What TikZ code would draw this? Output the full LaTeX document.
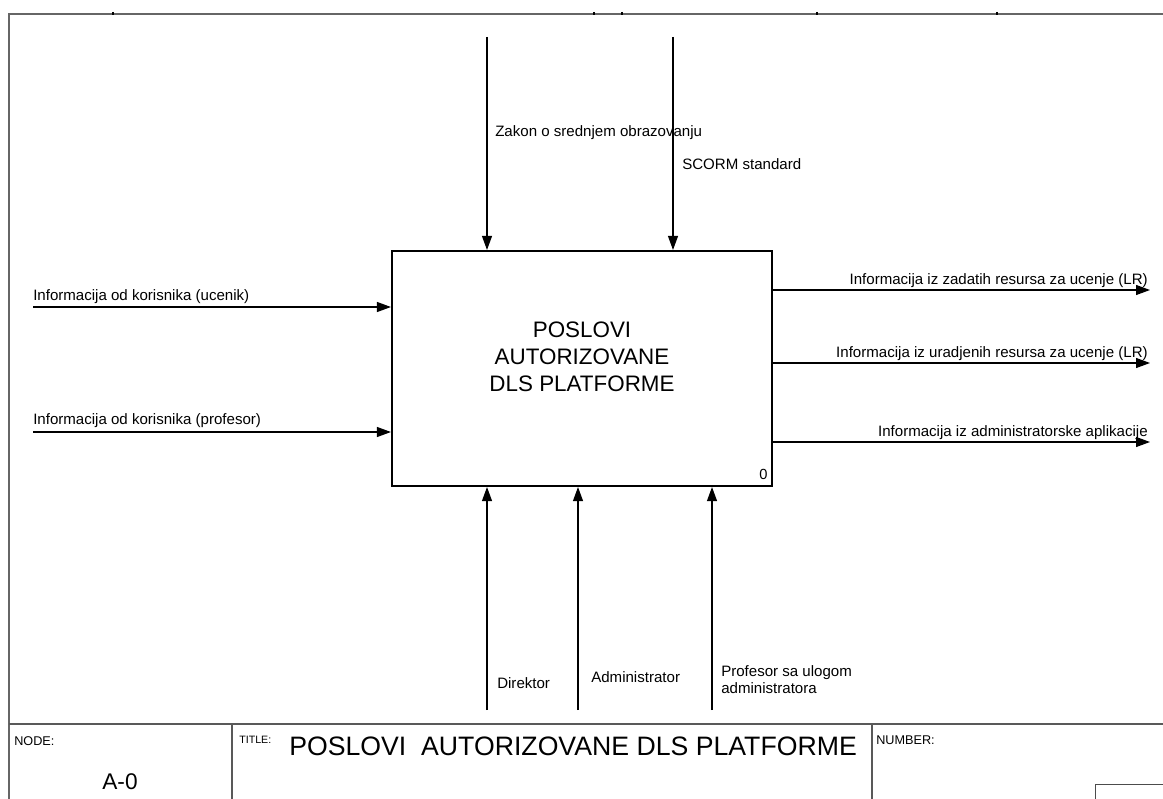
\documentclass[tikz,border=0pt]{standalone}
\usepackage{fontspec}
\setmainfont{Liberation Sans}
\usetikzlibrary{arrows.meta}
\begin{document}
\begin{tikzpicture}[x=0.75pt,y=-0.75pt,
  frame/.style={draw=black!60, line width=1.5pt},
  sheet/.style={draw=black!65, line width=0.9pt},
  flow/.style={draw=black, line width=0.8pt, -{Triangle[length=10.5pt,width=7.5pt]}},
  lbl/.style={inner sep=0pt, font=\fontsize{11.3}{13}\selectfont},
  activity/.style={draw=black, line width=1.6pt, minimum width=285pt, minimum height=176.25pt, inner sep=0pt}]
\useasboundingbox (0,0) rectangle (1163,799);

% outer sheet frame
\coordinate (ftl) at (9,14);
\coordinate (ftr) at (1163,14);
\coordinate (fbl) at (9,799);
\draw[frame] (ftr) -- (ftl) -- (fbl);
\foreach \tx in {113,594,622,817,997}
  \draw[black, line width=0.8pt] (\tx,12) -- (\tx,15);

% activity box
\node[activity] (box) at (582,368.5) {};
\node[align=center, inner sep=0pt, font=\fontsize{16.8}{20.3}\selectfont] (boxtxt) at ([yshift=8.5pt]box.center)
  {POSLOVI\\ AUTORIZOVANE\\DLS PLATFORME};
\node[inner sep=0pt, font=\fontsize{11}{12}\selectfont, anchor=south east] (boxno) at ([xshift=-4pt,yshift=5pt]box.south east) {0};

% controls (top)
\coordinate (c1) at (487,37);
\coordinate (c2) at (673,37);
\draw[flow] (c1) -- (c1 |- box.north);
\draw[flow] (c2) -- (c2 |- box.north);
\node[lbl, anchor=west] (lc1) at (495,133) {Zakon o srednjem obrazovanju};
\node[lbl, anchor=west] (lc2) at (682,164) {SCORM standard};

% inputs (left)
\coordinate (i1) at (33,307);
\coordinate (i2) at (33,432);
\draw[flow] (i1) -- (i1 -| box.west);
\draw[flow] (i2) -- (i2 -| box.west);
\node[lbl, anchor=west] (li1) at (33,297) {Informacija od korisnika (ucenik)};
\node[lbl, anchor=west] (li2) at (33,421) {Informacija od korisnika (profesor)};

% outputs (right)
\coordinate (o1) at (1150,290);
\coordinate (o2) at (1150,363);
\coordinate (o3) at (1150,442);
\draw[flow] (o1 -| box.east) -- (o1);
\draw[flow] (o2 -| box.east) -- (o2);
\draw[flow] (o3 -| box.east) -- (o3);
\node[lbl, anchor=east] (lo1) at (1148,281) {Informacija iz zadatih resursa za ucenje (LR)};
\node[lbl, anchor=east] (lo2) at (1148,354) {Informacija iz uradjenih resursa za ucenje (LR)};
\node[lbl, anchor=east] (lo3) at (1148,433) {Informacija iz administratorske aplikacije};

% mechanisms (bottom)
\coordinate (m1) at (487,710);
\coordinate (m2) at (578,710);
\coordinate (m3) at (712,710);
\draw[flow] (m1) -- (m1 |- box.south);
\draw[flow] (m2) -- (m2 |- box.south);
\draw[flow] (m3) -- (m3 |- box.south);
\node[lbl, anchor=west] (lm1) at (497,683) {Direktor};
\node[lbl, anchor=west] (lm2) at (591,677) {Administrator};
\node[lbl, anchor=west, align=left, font=\fontsize{11.3}{12.8}\selectfont] (lm3) at (721,680) {Profesor sa ulogom\\administratora};

% title block
\coordinate (tbl) at (9,724);
\coordinate (tbr) at (1163,724);
\draw[sheet] (tbl) -- (tbr);
\coordinate (d1) at (232,724);
\coordinate (d1b) at (232,799);
\coordinate (d2) at (872,724);
\coordinate (d2b) at (872,799);
\draw[sheet] (d1) -- (d1b);
\draw[sheet] (d2) -- (d2b);
\coordinate (nb) at (1095,784);
\draw[black!70, line width=0.6pt] (1163,784) -- (nb) -- (1095,799);

\node[inner sep=0pt, anchor=west, font=\fontsize{9.5}{10}\selectfont] (nodelbl) at (14,741) {NODE:};
\node[inner sep=0pt, font=\fontsize{17}{20}\selectfont] (nodeval) at (120,782) {A-0};
\node[inner sep=0pt, anchor=west, font=\fontsize{8}{9}\selectfont] (titlelbl) at (239,740) {TITLE:};
\node[inner sep=0pt, anchor=west, font=\fontsize{20}{22}\selectfont] (titleval) at (289,746) {POSLOVI\ \ AUTORIZOVANE DLS PLATFORME};
\node[inner sep=0pt, anchor=west, font=\fontsize{9.5}{10}\selectfont] (numlbl) at (876,740) {NUMBER:};
\end{tikzpicture}
\end{document}
